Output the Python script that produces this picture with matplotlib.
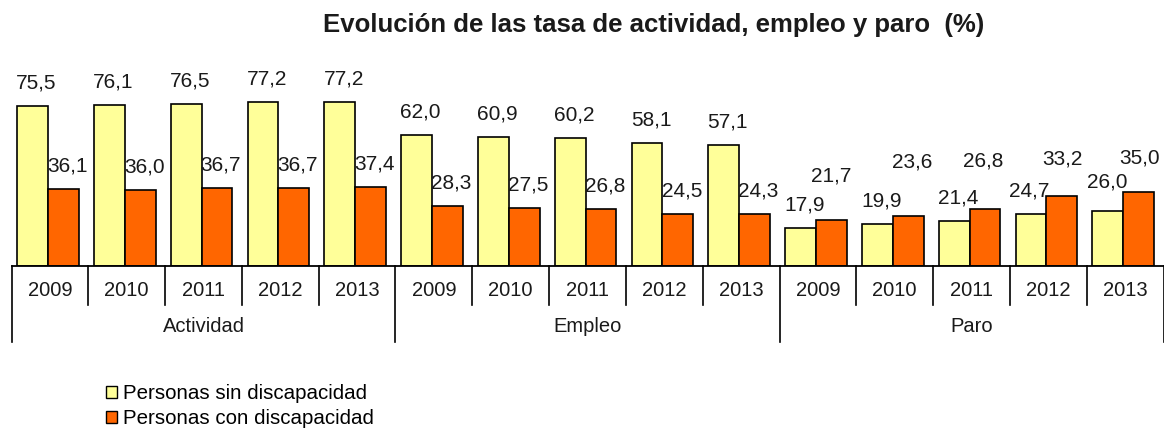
import matplotlib
matplotlib.use("Agg")
import matplotlib.pyplot as plt
from matplotlib.patches import Patch

plt.rcParams['font.family'] = ['Liberation Sans', 'DejaVu Sans']

groups = ["Actividad", "Empleo", "Paro"]
years = ["2009", "2010", "2011", "2012", "2013"]
sin_disc = [75.5, 76.1, 76.5, 77.2, 77.2,
            62.0, 60.9, 60.2, 58.1, 57.1,
            17.9, 19.9, 21.4, 24.7, 26.0]
con_disc = [36.1, 36.0, 36.7, 36.7, 37.4,
            28.3, 27.5, 26.8, 24.5, 24.3,
            21.7, 23.6, 26.8, 33.2, 35.0]
series_names = ["Personas sin discapacidad", "Personas con discapacidad"]
colors = ["#FFFF99", "#FF6600"]

# label placement tweaks (pixels) for overlapping labels, index -> (dx, dy)
sin_label_adj = {12: (0, 0), 13: (-6, 0), 14: (-5, 6)}
con_label_adj = {10: (-4, 21), 11: (0, 31), 12: (-6, 25), 13: (-3, 14), 14: (-3, 11)}

W, H = 1164, 429
fig = plt.figure(figsize=(W / 100, H / 100), dpi=100)
ax_left, ax_right = 11.5, 1163.5
base_y, top_y = 266, 54
ax = fig.add_axes([ax_left / W, (H - base_y) / H, (ax_right - ax_left) / W, (base_y - top_y) / H])
ax.set_xlim(-0.5, 14.5)
ax.set_ylim(0, 100)
for s in ["top", "right", "left", "bottom"]:
    ax.spines[s].set_visible(False)
ax.set_xticks([])
ax.set_yticks([])

n = len(sin_disc)
xs = list(range(n))
bw = 0.40
shift = -0.025
b1 = ax.bar([x + shift - bw / 2 for x in xs], sin_disc, width=bw, color=colors[0],
            edgecolor="black", linewidth=1.2, zorder=3)
b2 = ax.bar([x + shift + bw / 2 for x in xs], con_disc, width=bw, color=colors[1],
            edgecolor="black", linewidth=1.2, zorder=3)

lab_fs = 15
for i, (rect, v) in enumerate(zip(b1, sin_disc)):
    dx, dy = sin_label_adj.get(i, (0, 0))
    ax.annotate(f"{v:.1f}".replace(".", ","), (rect.get_x() + rect.get_width() / 2, v),
                xytext=(4 + dx, 23 + dy), textcoords="offset pixels",
                ha="center", va="center", fontsize=lab_fs, color="#1a1a1a")
for i, (rect, v) in enumerate(zip(b2, con_disc)):
    dx, dy = con_label_adj.get(i, (0, 0))
    ax.annotate(f"{v:.1f}".replace(".", ","), (rect.get_x() + rect.get_width() / 2, v),
                xytext=(4 + dx, 23 + dy), textcoords="offset pixels",
                ha="center", va="center", fontsize=lab_fs, color="#1a1a1a")

# category table below axis
ah = base_y - top_y
y_year_line = -(305 - base_y) / ah
y_group_line = -(342 - base_y) / ah
y_year_txt = -(291 - base_y) / ah
y_group_txt = -(327 - base_y) / ah
tr = ax.get_xaxis_transform()
ax.plot([-0.5, 14.5], [0, 0], color="black", lw=1.3, transform=tr, clip_on=False, zorder=4)
for k in range(n + 1):
    xb = k - 0.5
    y_end = y_group_line if k % 5 == 0 else y_year_line
    ax.plot([xb, xb], [0, y_end], color="black", lw=1.2, transform=tr, clip_on=False)
for i in range(n):
    ax.text(i, y_year_txt, years[i % 5], ha="center", va="center", fontsize=14.5,
            color="#1a1a1a", transform=tr)
for g, name in enumerate(groups):
    ax.text(g * 5 + 2, y_group_txt, name, ha="center", va="center", fontsize=14.5,
            color="#1a1a1a", transform=tr)

fig.text(654 / W, 1 - 25 / H, "Evolución de las tasa de actividad, empleo y paro  (%)",
         ha="center", va="center", fontsize=18.5, fontweight="bold", color="#1a1a1a")

handles = [Patch(facecolor=colors[0], edgecolor="black", linewidth=1.0),
           Patch(facecolor=colors[1], edgecolor="black", linewidth=1.0)]
fig.legend(handles, series_names, loc="upper left", bbox_to_anchor=(106 / W, 1 - 384 / H),
           frameon=False, fontsize=14.8, handlelength=0.55, handleheight=0.55,
           handletextpad=0.3, labelspacing=0.3, borderpad=0, borderaxespad=0)

fig.savefig("out.png", dpi=100, facecolor="white")
